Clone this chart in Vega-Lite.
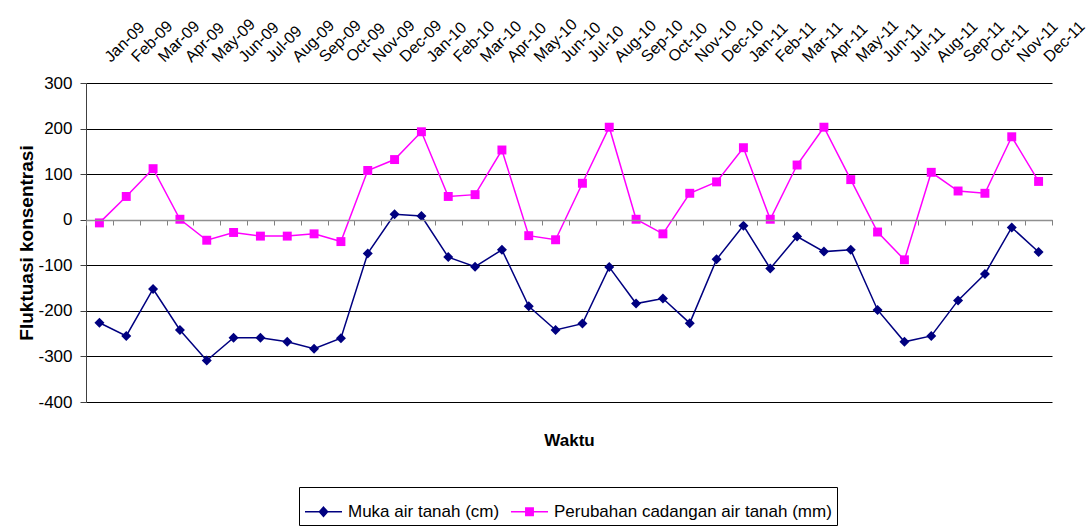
{
  "$schema": "https://vega.github.io/schema/vega-lite/v6.json",
  "width": 966,
  "height": 319,
  "autosize": {"type": "none"},
  "padding": {"left": 86, "top": 83, "right": 36, "bottom": 125},
  "background": "white",
  "config": {
    "view": {"stroke": null},
    "font": "Liberation Sans"
  },
  "datasets": {
    "d": [
      {"m": "Jan-09", "s": "Muka air tanah (cm)", "v": -226}, {"m": "Feb-09", "s": "Muka air tanah (cm)", "v": -255},
      {"m": "Mar-09", "s": "Muka air tanah (cm)", "v": -152}, {"m": "Apr-09", "s": "Muka air tanah (cm)", "v": -242},
      {"m": "May-09", "s": "Muka air tanah (cm)", "v": -309}, {"m": "Jun-09", "s": "Muka air tanah (cm)", "v": -259},
      {"m": "Jul-09", "s": "Muka air tanah (cm)", "v": -259}, {"m": "Aug-09", "s": "Muka air tanah (cm)", "v": -268},
      {"m": "Sep-09", "s": "Muka air tanah (cm)", "v": -283}, {"m": "Oct-09", "s": "Muka air tanah (cm)", "v": -260},
      {"m": "Nov-09", "s": "Muka air tanah (cm)", "v": -74}, {"m": "Dec-09", "s": "Muka air tanah (cm)", "v": 12},
      {"m": "Jan-10", "s": "Muka air tanah (cm)", "v": 8}, {"m": "Feb-10", "s": "Muka air tanah (cm)", "v": -82},
      {"m": "Mar-10", "s": "Muka air tanah (cm)", "v": -103}, {"m": "Apr-10", "s": "Muka air tanah (cm)", "v": -66},
      {"m": "May-10", "s": "Muka air tanah (cm)", "v": -190}, {"m": "Jun-10", "s": "Muka air tanah (cm)", "v": -242},
      {"m": "Jul-10", "s": "Muka air tanah (cm)", "v": -228}, {"m": "Aug-10", "s": "Muka air tanah (cm)", "v": -104},
      {"m": "Sep-10", "s": "Muka air tanah (cm)", "v": -184}, {"m": "Oct-10", "s": "Muka air tanah (cm)", "v": -173},
      {"m": "Nov-10", "s": "Muka air tanah (cm)", "v": -227}, {"m": "Dec-10", "s": "Muka air tanah (cm)", "v": -87},
      {"m": "Jan-11", "s": "Muka air tanah (cm)", "v": -13}, {"m": "Feb-11", "s": "Muka air tanah (cm)", "v": -107},
      {"m": "Mar-11", "s": "Muka air tanah (cm)", "v": -37}, {"m": "Apr-11", "s": "Muka air tanah (cm)", "v": -70},
      {"m": "May-11", "s": "Muka air tanah (cm)", "v": -66}, {"m": "Jun-11", "s": "Muka air tanah (cm)", "v": -198},
      {"m": "Jul-11", "s": "Muka air tanah (cm)", "v": -268}, {"m": "Aug-11", "s": "Muka air tanah (cm)", "v": -255},
      {"m": "Sep-11", "s": "Muka air tanah (cm)", "v": -177}, {"m": "Oct-11", "s": "Muka air tanah (cm)", "v": -119},
      {"m": "Nov-11", "s": "Muka air tanah (cm)", "v": -17}, {"m": "Dec-11", "s": "Muka air tanah (cm)", "v": -71},
      {"m": "Jan-09", "s": "Perubahan cadangan air tanah (mm)", "v": -7}, {"m": "Feb-09", "s": "Perubahan cadangan air tanah (mm)", "v": 51},
      {"m": "Mar-09", "s": "Perubahan cadangan air tanah (mm)", "v": 112}, {"m": "Apr-09", "s": "Perubahan cadangan air tanah (mm)", "v": 1},
      {"m": "May-09", "s": "Perubahan cadangan air tanah (mm)", "v": -45}, {"m": "Jun-09", "s": "Perubahan cadangan air tanah (mm)", "v": -28},
      {"m": "Jul-09", "s": "Perubahan cadangan air tanah (mm)", "v": -36}, {"m": "Aug-09", "s": "Perubahan cadangan air tanah (mm)", "v": -36},
      {"m": "Sep-09", "s": "Perubahan cadangan air tanah (mm)", "v": -31}, {"m": "Oct-09", "s": "Perubahan cadangan air tanah (mm)", "v": -48},
      {"m": "Nov-09", "s": "Perubahan cadangan air tanah (mm)", "v": 108}, {"m": "Dec-09", "s": "Perubahan cadangan air tanah (mm)", "v": 132},
      {"m": "Jan-10", "s": "Perubahan cadangan air tanah (mm)", "v": 193}, {"m": "Feb-10", "s": "Perubahan cadangan air tanah (mm)", "v": 51},
      {"m": "Mar-10", "s": "Perubahan cadangan air tanah (mm)", "v": 55}, {"m": "Apr-10", "s": "Perubahan cadangan air tanah (mm)", "v": 153},
      {"m": "May-10", "s": "Perubahan cadangan air tanah (mm)", "v": -35}, {"m": "Jun-10", "s": "Perubahan cadangan air tanah (mm)", "v": -44},
      {"m": "Jul-10", "s": "Perubahan cadangan air tanah (mm)", "v": 80}, {"m": "Aug-10", "s": "Perubahan cadangan air tanah (mm)", "v": 203},
      {"m": "Sep-10", "s": "Perubahan cadangan air tanah (mm)", "v": 1}, {"m": "Oct-10", "s": "Perubahan cadangan air tanah (mm)", "v": -31},
      {"m": "Nov-10", "s": "Perubahan cadangan air tanah (mm)", "v": 58}, {"m": "Dec-10", "s": "Perubahan cadangan air tanah (mm)", "v": 83},
      {"m": "Jan-11", "s": "Perubahan cadangan air tanah (mm)", "v": 158}, {"m": "Feb-11", "s": "Perubahan cadangan air tanah (mm)", "v": 1},
      {"m": "Mar-11", "s": "Perubahan cadangan air tanah (mm)", "v": 120}, {"m": "Apr-11", "s": "Perubahan cadangan air tanah (mm)", "v": 203},
      {"m": "May-11", "s": "Perubahan cadangan air tanah (mm)", "v": 88}, {"m": "Jun-11", "s": "Perubahan cadangan air tanah (mm)", "v": -27},
      {"m": "Jul-11", "s": "Perubahan cadangan air tanah (mm)", "v": -88}, {"m": "Aug-11", "s": "Perubahan cadangan air tanah (mm)", "v": 104},
      {"m": "Sep-11", "s": "Perubahan cadangan air tanah (mm)", "v": 63}, {"m": "Oct-11", "s": "Perubahan cadangan air tanah (mm)", "v": 58},
      {"m": "Nov-11", "s": "Perubahan cadangan air tanah (mm)", "v": 182}, {"m": "Dec-11", "s": "Perubahan cadangan air tanah (mm)", "v": 84}
    ]
  },
  "layer": [
    {
      "data": {"name": "d"},
      "transform": [{"filter": "datum.s === 'Muka air tanah (cm)'"}],
      "mark": {"type": "line", "strokeWidth": 1.5, "color": "#000080"},
      "encoding": {
        "x": {
          "field": "m", "type": "ordinal",
          "scale": {"type": "band", "paddingInner": 0, "paddingOuter": 0,
            "domain": ["Jan-09","Feb-09","Mar-09","Apr-09","May-09","Jun-09","Jul-09","Aug-09","Sep-09","Oct-09","Nov-09","Dec-09","Jan-10","Feb-10","Mar-10","Apr-10","May-10","Jun-10","Jul-10","Aug-10","Sep-10","Oct-10","Nov-10","Dec-10","Jan-11","Feb-11","Mar-11","Apr-11","May-11","Jun-11","Jul-11","Aug-11","Sep-11","Oct-11","Nov-11","Dec-11"]},
          "axis": {"orient": "top", "title": null, "labelAngle": -45, "labelAlign": "left", "labelBaseline": "middle",
            "labelFontSize": 16, "labelColor": "black", "ticks": false, "domain": false, "grid": false,
            "labelPadding": 24, "labelOffset": 8, "labelOverlap": false}
        },
        "y": {
          "field": "v", "type": "quantitative",
          "scale": {"domain": [-400, 300], "nice": false, "zero": false},
          "axis": {"title": "Fluktuasi konsentrasi", "titleFontSize": 19, "titleFontWeight": "bold", "titleColor": "black",
            "titlePadding": 1, "values": [-400, -300, -200, -100, 0, 100, 200, 300], "labelExpr": "'' + datum.value",
            "labelFontSize": 17, "labelColor": "black", "labelPadding": 8, "tickSize": 6,
            "tickColor": "#404040", "domainColor": "#404040", "grid": true,
            "gridColor": "black", "gridOpacity": 1, "gridWidth": 1}
        }
      }
    },
    {
      "data": {"name": "d"},
      "transform": [{"filter": "datum.s === 'Muka air tanah (cm)'"}],
      "mark": {"type": "point", "shape": "diamond", "filled": true, "color": "#000080", "size": 100, "opacity": 1},
      "encoding": {
        "x": {"field": "m", "type": "ordinal",
          "scale": {"domain": ["Jan-09","Feb-09","Mar-09","Apr-09","May-09","Jun-09","Jul-09","Aug-09","Sep-09","Oct-09","Nov-09","Dec-09","Jan-10","Feb-10","Mar-10","Apr-10","May-10","Jun-10","Jul-10","Aug-10","Sep-10","Oct-10","Nov-10","Dec-10","Jan-11","Feb-11","Mar-11","Apr-11","May-11","Jun-11","Jul-11","Aug-11","Sep-11","Oct-11","Nov-11","Dec-11"]},
          "axis": {"orient": "bottom", "offset": -182, "title": "Waktu", "titleFontSize": 17, "titleFontWeight": "bold",
            "titleColor": "black", "titlePadding": 207, "labels": false, "ticks": true, "tickBand": "extent",
            "tickSize": 5, "tickColor": "#808080", "domainColor": "#909090", "domainWidth": 1.5, "grid": false, "zindex": 1}},
        "y": {"field": "v", "type": "quantitative"}
      }
    },
    {
      "data": {"name": "d"},
      "transform": [{"filter": "datum.s === 'Perubahan cadangan air tanah (mm)'"}],
      "mark": {"type": "line", "strokeWidth": 1.5, "color": "#FF00FF"},
      "encoding": {
        "x": {"field": "m", "type": "ordinal", "axis": null,
          "scale": {"domain": ["Jan-09","Feb-09","Mar-09","Apr-09","May-09","Jun-09","Jul-09","Aug-09","Sep-09","Oct-09","Nov-09","Dec-09","Jan-10","Feb-10","Mar-10","Apr-10","May-10","Jun-10","Jul-10","Aug-10","Sep-10","Oct-10","Nov-10","Dec-10","Jan-11","Feb-11","Mar-11","Apr-11","May-11","Jun-11","Jul-11","Aug-11","Sep-11","Oct-11","Nov-11","Dec-11"]}},
        "y": {"field": "v", "type": "quantitative"}
      }
    },
    {
      "data": {"name": "d"},
      "transform": [{"filter": "datum.s === 'Perubahan cadangan air tanah (mm)'"}],
      "mark": {"type": "point", "shape": "square", "filled": true, "color": "#FF00FF", "size": 80, "opacity": 1},
      "encoding": {
        "x": {"field": "m", "type": "ordinal",
          "scale": {"domain": ["Jan-09","Feb-09","Mar-09","Apr-09","May-09","Jun-09","Jul-09","Aug-09","Sep-09","Oct-09","Nov-09","Dec-09","Jan-10","Feb-10","Mar-10","Apr-10","May-10","Jun-10","Jul-10","Aug-10","Sep-10","Oct-10","Nov-10","Dec-10","Jan-11","Feb-11","Mar-11","Apr-11","May-11","Jun-11","Jul-11","Aug-11","Sep-11","Oct-11","Nov-11","Dec-11"]},
          "axis": null},
        "y": {"field": "v", "type": "quantitative"}
      }
    },
    {
      "data": {"name": "d"},
      "mark": {"type": "point", "filled": true, "strokeWidth": 1.5, "opacity": 0},
      "encoding": {
        "fill": {"field": "s", "type": "nominal",
          "scale": {"domain": ["Muka air tanah (cm)", "Perubahan cadangan air tanah (mm)"], "range": ["#000080", "#FF00FF"]},
          "legend": {"title": null, "orient": "none", "legendX": 213, "legendY": 404, "direction": "horizontal", "strokeColor": "black",
            "padding": 5, "symbolSize": 1369, "symbolStrokeWidth": 1.5, "symbolOpacity": 1, "labelFontSize": 17,
            "labelColor": "black", "labelOffset": 5, "columnPadding": 8, "labelLimit": 400}},
        "stroke": {"field": "s", "type": "nominal",
          "scale": {"domain": ["Muka air tanah (cm)", "Perubahan cadangan air tanah (mm)"], "range": ["#000080", "#FF00FF"]},
          "legend": {"title": null, "orient": "none", "legendX": 213, "legendY": 404, "direction": "horizontal", "strokeColor": "black",
            "padding": 5, "symbolSize": 1369, "symbolStrokeWidth": 1.5, "symbolOpacity": 1, "labelFontSize": 17,
            "labelColor": "black", "labelOffset": 5, "columnPadding": 8, "labelLimit": 400}},
        "shape": {"field": "s", "type": "nominal",
          "scale": {"domain": ["Muka air tanah (cm)", "Perubahan cadangan air tanah (mm)"],
            "range": ["M-1,0L1,0M0,-0.25L0.22,0L0,0.25L-0.22,0Z", "M-1,0L1,0M-0.2,-0.2L0.2,-0.2L0.2,0.2L-0.2,0.2Z"]},
          "legend": {"title": null, "orient": "none", "legendX": 213, "legendY": 404, "direction": "horizontal", "strokeColor": "black",
            "padding": 5, "symbolSize": 1369, "symbolStrokeWidth": 1.5, "symbolOpacity": 1, "labelFontSize": 17,
            "labelColor": "black", "labelOffset": 5, "columnPadding": 8, "labelLimit": 400}},
        "x": {"field": "m", "type": "ordinal", "axis": null,
          "scale": {"domain": ["Jan-09","Feb-09","Mar-09","Apr-09","May-09","Jun-09","Jul-09","Aug-09","Sep-09","Oct-09","Nov-09","Dec-09","Jan-10","Feb-10","Mar-10","Apr-10","May-10","Jun-10","Jul-10","Aug-10","Sep-10","Oct-10","Nov-10","Dec-10","Jan-11","Feb-11","Mar-11","Apr-11","May-11","Jun-11","Jul-11","Aug-11","Sep-11","Oct-11","Nov-11","Dec-11"]}},
        "y": {"field": "v", "type": "quantitative"}
      }
    }
  ],
  "resolve": {"axis": {"x": "independent"}}
}
